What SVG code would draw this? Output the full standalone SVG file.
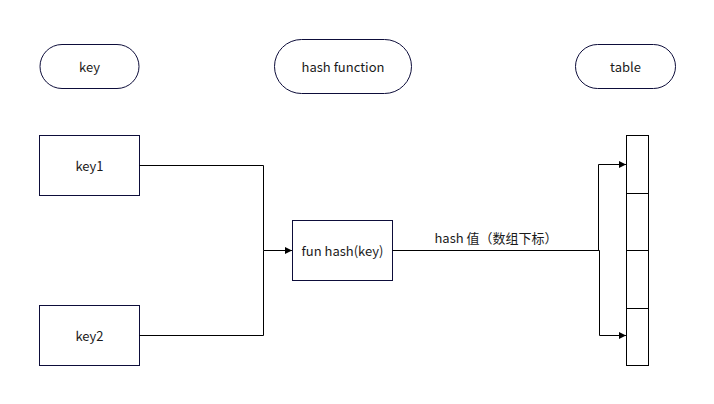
<svg xmlns="http://www.w3.org/2000/svg" width="714" height="404" viewBox="0 0 714 404">
<style>
.n{fill:#fff;stroke:#0d0d3a;stroke-width:1}
.t{fill:#1a1a1a;stroke:#000;stroke-width:1}
text{font-family:"Noto Sans CJK SC","Noto Sans",sans-serif;font-size:13px;fill:#1a1a1a;text-anchor:middle;dominant-baseline:central}
.c{fill:none;stroke:#000;stroke-width:1}
</style>
<defs>
<marker id="a" markerWidth="8" markerHeight="8" refX="7" refY="4" orient="auto" markerUnits="userSpaceOnUse">
<path d="M0,0.5 L7,4 L0,7.5 Z" fill="#000"/>
</marker>
</defs>
<rect width="714" height="404" fill="#fff"/>
<g id="key-header"><rect class="n" x="40" y="44.5" width="99" height="44" rx="22" ry="22"/><text x="89.5" y="66.5">key</text></g>
<g id="hash-header"><rect class="n" x="274.5" y="39.5" width="137" height="54" rx="27" ry="27"/><text x="343" y="66.5">hash function</text></g>
<g id="table-header"><rect class="n" x="575.5" y="44.5" width="100" height="44" rx="22" ry="22"/><text x="625.5" y="66.5">table</text></g>
<g id="key1"><rect class="n" x="39.5" y="135.5" width="100" height="60"/><text x="89.5" y="165.5">key1</text></g>
<g id="key2"><rect class="n" x="39.5" y="305.5" width="100" height="60"/><text x="89.5" y="335.5">key2</text></g>
<g id="hashfn"><rect class="n" x="292.5" y="220.5" width="100" height="60"/><text x="342.5" y="250.5">fun hash(key)</text></g>
<g id="table">
<rect fill="#fff" stroke="#000" x="626.5" y="135.5" width="22" height="230"/>
<line class="c" x1="626.5" y1="193.5" x2="648.5" y2="193.5"/>
<line class="c" x1="626.5" y1="250.5" x2="648.5" y2="250.5"/>
<line class="c" x1="626.5" y1="308.5" x2="648.5" y2="308.5"/>
</g>
<g id="connectors">
<polyline class="c" points="139.5,165.5 263.5,165.5 263.5,250.5"/>
<polyline class="c" points="139.5,335.5 263.5,335.5 263.5,250.5 292,250.5" marker-end="url(#a)"/>
<polyline class="c" points="392.5,250.5 599.5,250.5 599.5,335.5 626,335.5" marker-end="url(#a)"/>
<polyline class="c" points="598.5,250.5 598.5,164.5 626,164.5" marker-end="url(#a)"/>
<text x="496" y="237">hash 值（数组下标）</text>
</g>
</svg>
